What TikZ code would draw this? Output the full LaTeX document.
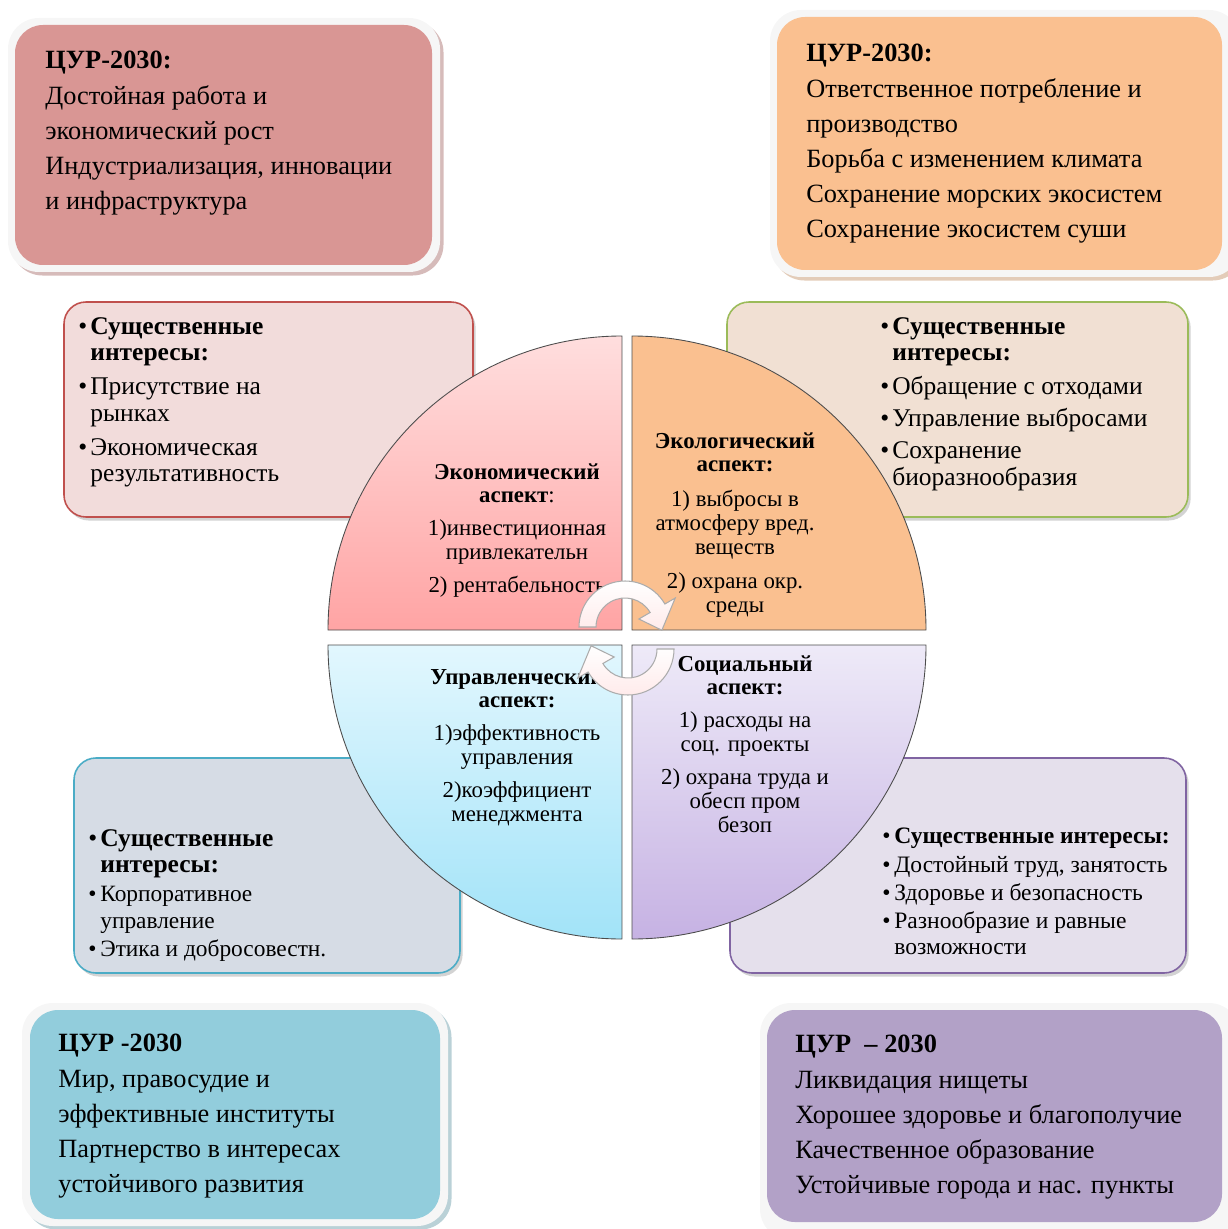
\documentclass[tikz,border=0pt]{standalone}
\usepackage{fontspec}
\setmainfont{Liberation Serif}
\usetikzlibrary{shadows, positioning}

\definecolor{goalred}{HTML}{D99694}
\definecolor{goalorange}{HTML}{FAC090}
\definecolor{goalblue}{HTML}{92CDDC}
\definecolor{goalpurple}{HTML}{B2A1C7}
\definecolor{intred}{HTML}{F2DCDB}
\definecolor{intbeige}{HTML}{F1E0D3}
\definecolor{intgrey}{HTML}{D6DCE5}
\definecolor{intlilac}{HTML}{E5E0EC}
\definecolor{edgered}{HTML}{C0504D}
\definecolor{edgegreen}{HTML}{9BBB59}
\definecolor{edgeteal}{HTML}{4BACC6}
\definecolor{edgepurple}{HTML}{8064A2}
\definecolor{ecotop}{HTML}{FFDEDE}
\definecolor{ecobot}{HTML}{FFA4A4}
\definecolor{govtop}{HTML}{E2F7FE}
\definecolor{govbot}{HTML}{A2E3F8}
\definecolor{soctop}{HTML}{EEEAF8}
\definecolor{socbot}{HTML}{C6B2E3}

\newcommand{\itm}{\makebox[0.24cm][l]{\textbullet}}
\newcommand{\hng}{\hspace*{0.24cm}}

\begin{document}
\begin{tikzpicture}[x=0.02cm, y=-0.02cm,
                goalframe/.style={rounded corners=0.62cm, fill=gray!7, draw=none},
                goalfill/.style={rounded corners=0.56cm, draw=none},
                goaltext/.style={align=left, inner sep=0pt, font=\fontsize{15}{20}\selectfont},
                intbox/.style={rounded corners=0.44cm, line width=0.9pt,
                               drop shadow={shadow xshift=1.5pt, shadow yshift=-2pt, opacity=0.35}},
                inttext/.style={align=left, inner sep=0pt, font=\fontsize{14.5}{15.2}\selectfont},
                quarter/.style={draw=gray!60!black, line width=0.5pt},
                asptext/.style={align=center, inner sep=0pt, font=\fontsize{13}{13.6}\selectfont},
                cyclearrow/.style={draw=gray!65, line width=0.6pt, top color=white, bottom color=red!8}
]
    \useasboundingbox (0,0) rectangle (1227,1229);

    % SDG boxes in the corners
        \draw[goalframe, drop shadow={shadow xshift=2pt, shadow yshift=-2pt, fill=goalred!80!black, opacity=0.5}] (8,18) rectangle (440,272);
        \fill[goalfill, goalred] (15,25) rectangle (432,265);
        \draw[goalframe, drop shadow={shadow xshift=2pt, shadow yshift=-2pt, fill=goalorange!80!black, opacity=0.5}] (770,10) rectangle (1240,277);
        \fill[goalfill, goalorange] (777,17) rectangle (1222,270);
        \draw[goalframe, drop shadow={shadow xshift=2pt, shadow yshift=-2pt, fill=goalblue!80!black, opacity=0.5}] (22,1003) rectangle (448,1226);
        \fill[goalfill, goalblue] (30,1010) rectangle (440,1219);
        \draw[goalframe, drop shadow={shadow xshift=2pt, shadow yshift=-2pt, fill=goalpurple!80!black, opacity=0.5}] (760,1003) rectangle (1240,1240);
        \fill[goalfill, goalpurple] (767,1010) rectangle (1222,1222);

        \node[goaltext, anchor=north west] (goalEco) at (45,51)
            {\textbf{ЦУР-2030:}\\Достойная работа и\\экономический рост\\Индустриализация, инновации\\и инфраструктура};
        \node[goaltext, anchor=north west] (goalEnv) at (806,44)
            {\textbf{ЦУР-2030:}\\Ответственное потребление и\\производство\\Борьба с изменением климата\\Сохранение морских экосистем\\Сохранение экосистем суши};
        \node[goaltext, anchor=north west] (goalGov) at (58,1034)
            {\textbf{ЦУР -2030}\\Мир, правосудие и\\эффективные институты\\Партнерство в интересах\\устойчивого развития};
        \node[goaltext, anchor=north west] (goalSoc) at (795,1035)
            {\textbf{ЦУР\ \ – 2030}\\Ликвидация нищеты\\Хорошее здоровье и благополучие\\Качественное образование\\Устойчивые города и нас. пункты};

    % material interests
        \draw[intbox, fill=intred, draw=edgered] (64,302) rectangle (473,517);
        \draw[intbox, fill=intbeige, draw=edgegreen] (727,302) rectangle (1188,517);
        \draw[intbox, fill=intgrey, draw=edgeteal] (74,758) rectangle (460,973);
        \draw[intbox, fill=intlilac, draw=edgepurple] (730,758) rectangle (1186,973);

        \node[inttext, anchor=north west] (intEco) at (78,317)
            {\itm\textbf{Существенные}\\\hng\textbf{интересы:}\\[4pt]\itm Присутствие на\\\hng рынках\\[4pt]\itm Экономическая\\\hng результативность};
        \node[inttext, anchor=north west] (intEnv) at (880,317)
            {\itm\textbf{Существенные}\\\hng\textbf{интересы:}\\[4pt]\itm Обращение с отходами\\[3pt]\itm Управление выбросами\\[3pt]\itm Сохранение\\\hng биоразнообразия};
        \node[inttext, anchor=north west] (intGov) at (88,829)
            {\itm\textbf{Существенные}\\\hng\textbf{интересы:}\\[1pt]{\fontsize{13.3}{14.5}\selectfont\itm Корпоративное}\\{\fontsize{13.3}{14.5}\selectfont\hng управление}\\[1pt]{\fontsize{13.3}{14.5}\selectfont\itm Этика и добросовестн.}};
        \node[inttext, anchor=north west, font=\fontsize{13.4}{15}\selectfont] (intSoc) at (882,828)
            {\itm\textbf{Существенные интересы:}\\[1pt]\itm Достойный труд, занятость\\[1pt]\itm Здоровье и безопасность\\[1pt]\itm Разнообразие и равные\\\hng возможности};

    % the four aspects
        \path[quarter, top color=ecotop, bottom color=ecobot] (622,630) -- (328,630) arc[start angle=180, end angle=270, radius=294] -- cycle;
        \path[quarter, fill=goalorange] (632,630) -- (632,336) arc[start angle=270, end angle=360, radius=294] -- cycle;
        \path[quarter, top color=govtop, bottom color=govbot] (622,645) -- (622,939) arc[start angle=90, end angle=180, radius=294] -- (622,645) -- cycle;
        \path[quarter, top color=soctop, bottom color=socbot] (632,645) -- (926,645) arc[start angle=0, end angle=90, radius=294] -- cycle;

        \node[asptext, anchor=north] (aspEco) at (517,463)
            {\textbf{Экономический}\\\textbf{аспект}:\\[5pt]1)инвестиционная\\привлекательн\\[5pt]2) рентабельность};
        \node[asptext, anchor=north] (aspEnv) at (735,432)
            {\textbf{Экологический}\\\textbf{аспект:}\\[6pt]1) выбросы в\\атмосферу вред.\\веществ\\[6pt]2) охрана окр.\\среды};
        \node[asptext, anchor=north] (aspGov) at (517,668)
            {\textbf{Управленческий}\\\textbf{аспект:}\\[5pt]1)эффективность\\управления\\[5pt]2)коэффициент\\менеджмента};
        \node[asptext, anchor=north] (aspSoc) at (745,655)
            {\textbf{Социальный}\\\textbf{аспект:}\\[5pt]1) расходы на\\соц. проекты\\[5pt]2) охрана труда и\\обесп пром\\безоп};

    % cycle arrows in the middle
        \coordinate (cyc1) at (625,627);
        \coordinate (cyc2) at (628,649);
        \path[cyclearrow] ([shift={(180:46)}]cyc1) arc[start angle=180, end angle=330, radius=46]
            -- ([shift={(330:58)}]cyc1) -- ([shift={(5:37)}]cyc1) -- ([shift={(330:16)}]cyc1)
            -- ([shift={(330:29)}]cyc1) arc[start angle=330, end angle=180, radius=29] -- cycle;
        \path[cyclearrow] ([shift={(0:46)}]cyc2) arc[start angle=0, end angle=150, radius=46]
            -- ([shift={(150:58)}]cyc2) -- ([shift={(185:37)}]cyc2) -- ([shift={(150:16)}]cyc2)
            -- ([shift={(150:29)}]cyc2) arc[start angle=150, end angle=0, radius=29] -- cycle;
\end{tikzpicture}
\end{document}
